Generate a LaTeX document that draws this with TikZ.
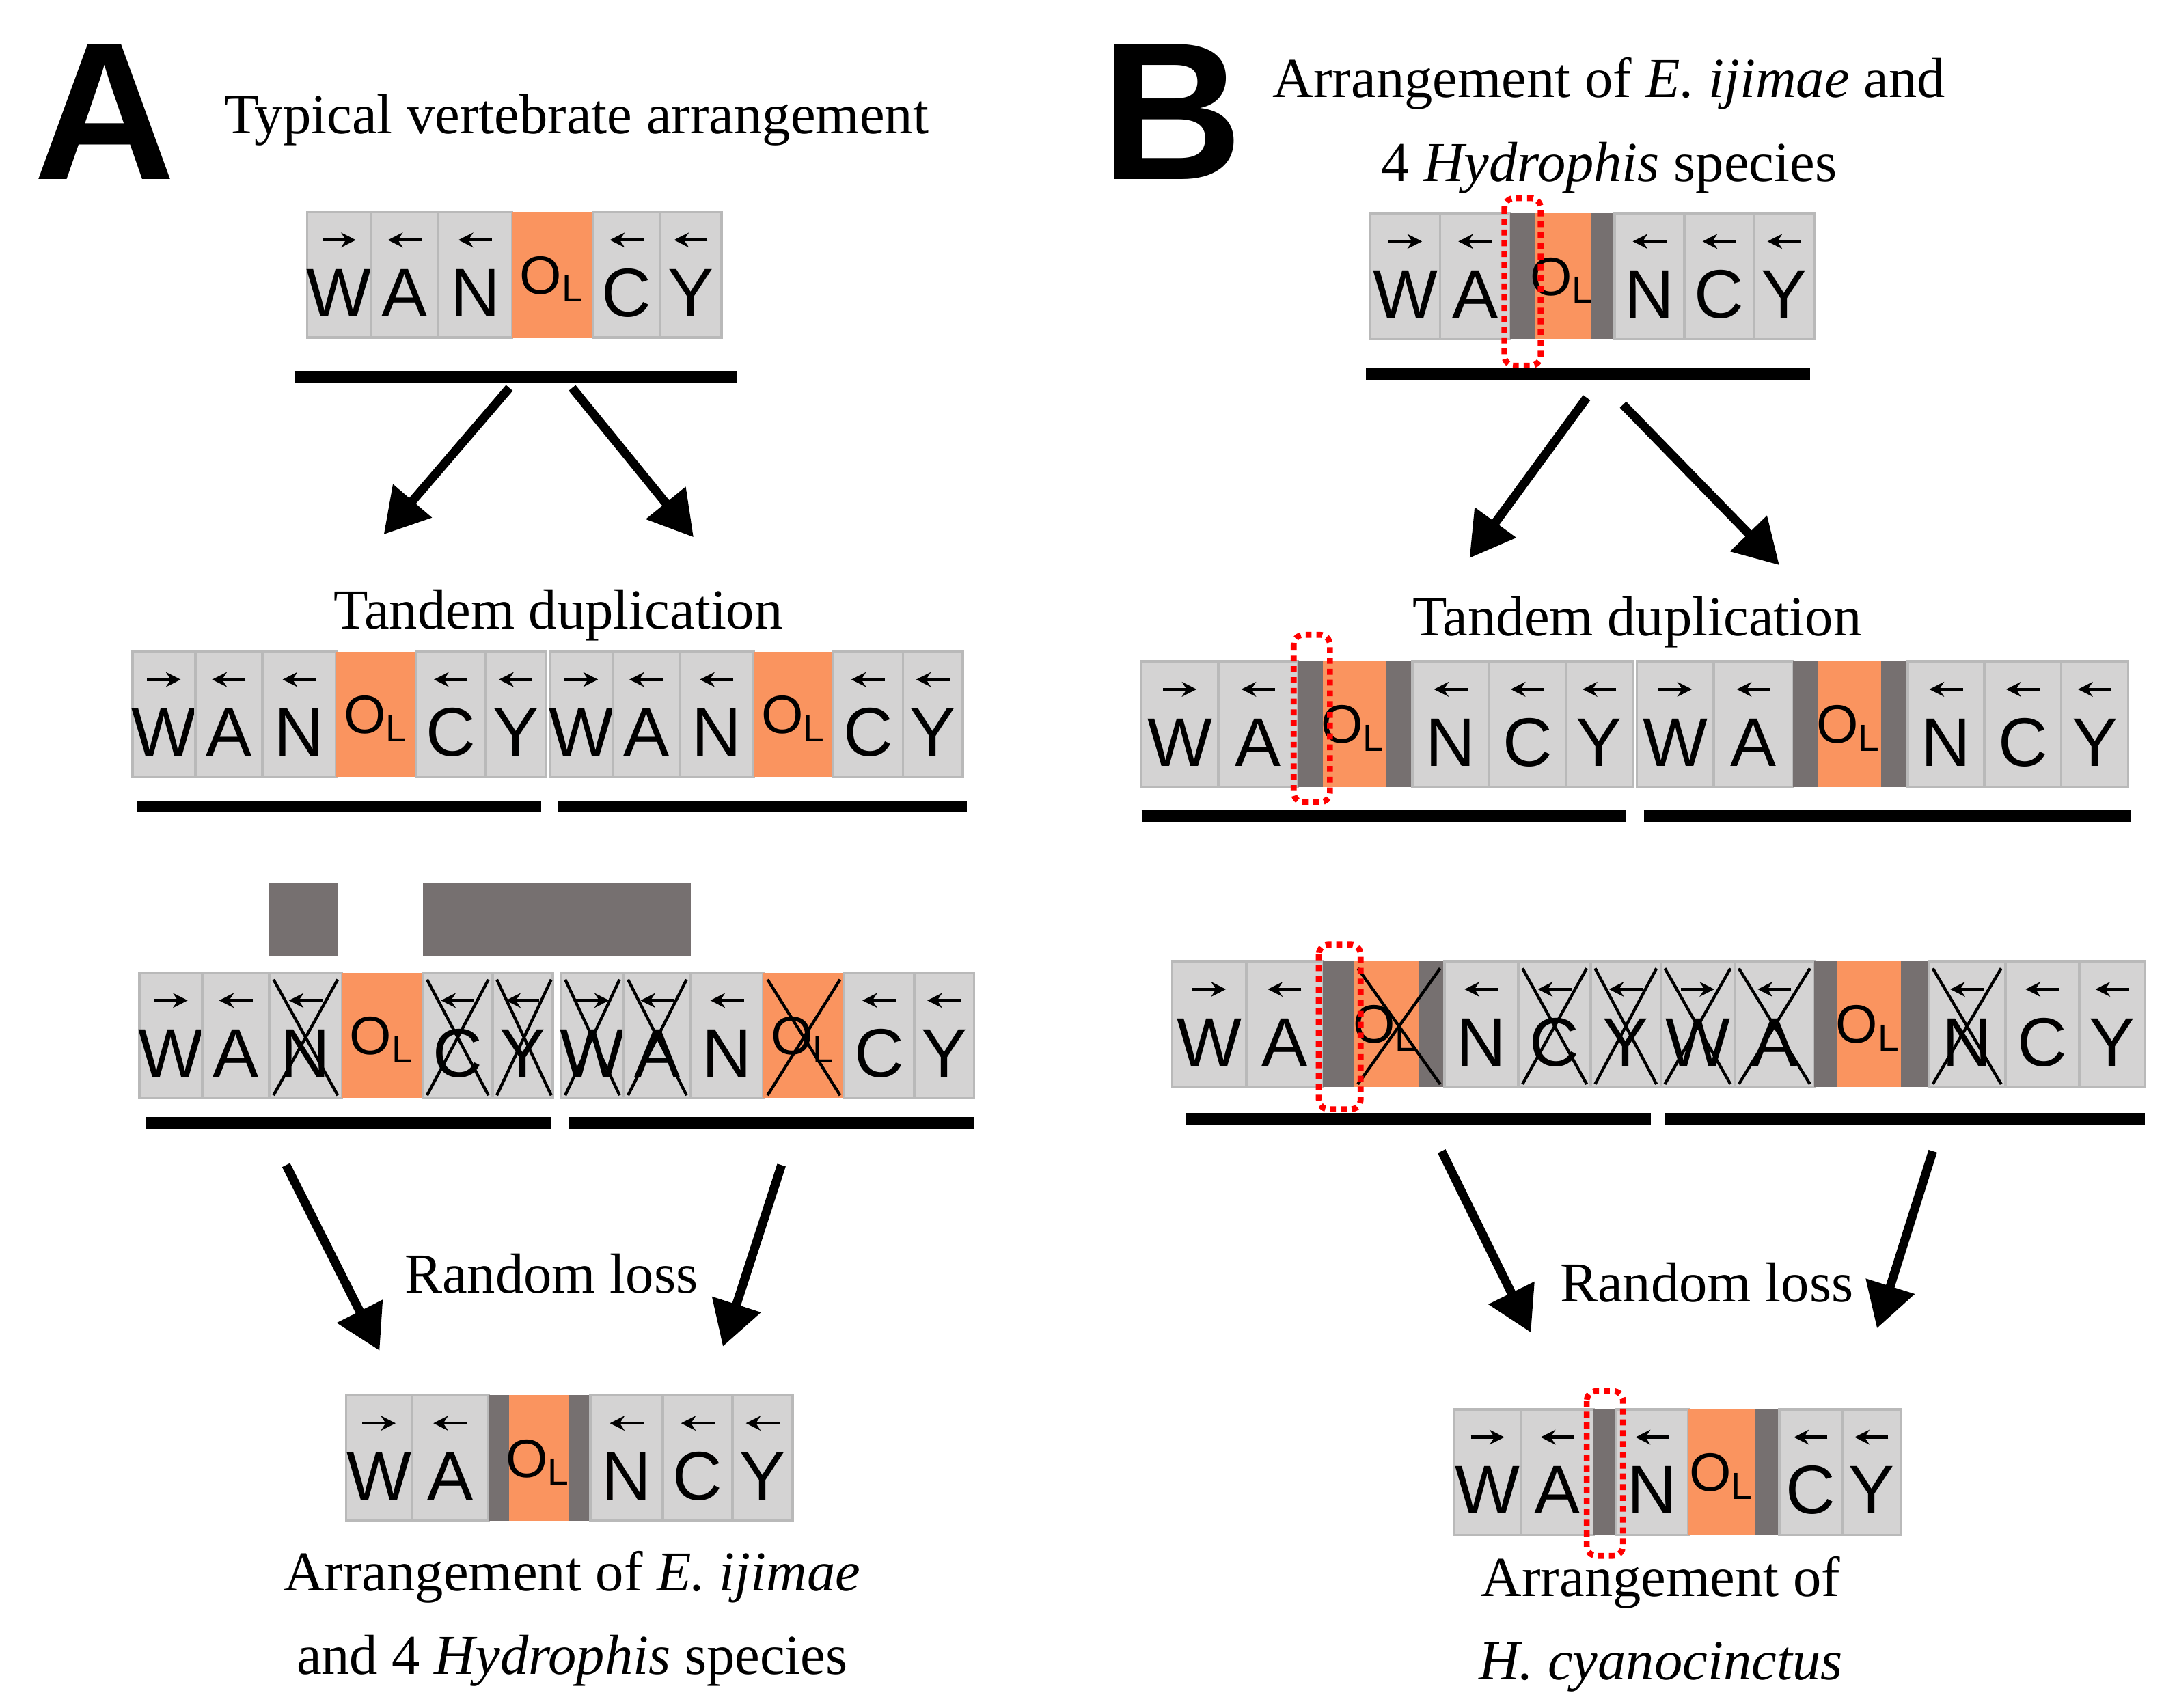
\documentclass[tikz,border=0pt]{standalone}
\usepackage{fontspec}
\setmainfont{Liberation Serif}
\newfontfamily\genefont{Liberation Sans}
\usetikzlibrary{arrows.meta}
\definecolor{geneGray}{RGB}{212,211,211}
\definecolor{geneEdge}{RGB}{185,185,185}
\definecolor{olOrange}{RGB}{250,148,95}
\definecolor{ncDark}{RGB}{118,112,112}
\tikzset{
  gene/.style={fill=geneGray,draw=geneEdge,line width=0.5pt},
  letter/.style={font=\genefont\fontsize{14}{14}\selectfont,inner sep=0pt},
  small arrow/.style={-{Stealth[length=3pt,width=3pt]},line width=0.6pt},
  big arrow/.style={-{Triangle[length=9pt,width=10pt]},line width=1.8pt},
  strand/.style={line width=2.4pt},
  cross/.style={line width=0.6pt},
  label/.style={font=\fontsize{11.5}{13}\selectfont,inner sep=0pt,align=center},
  loop box/.style={draw=red,densely dotted,line width=1.2pt,rounded corners=2pt}
}
%% gene box: name, x1, x2, top, letter, direction (1 = right, -1 = left)
\newcommand\gbox[6]{%
  \draw[gene] (#2,-#4) rectangle (#3,-#4-90);
  \node[letter] (#1) at ({(#2+#3)/2},-#4-58) {#5};
  \draw[small arrow] ({(#2+#3)/2-12*#6},-#4-20) -- ++(24*#6,0);}
%% origin of light strand
\newcommand\olbox[4]{%
  \fill[olOrange] (#2,-#3) rectangle (#3,-#4-90);
  \node[letter,font=\genefont\fontsize{11}{11}\selectfont] (#1) at ({(#2+#3)/2},-#4-48) {O\textsubscript{L}};}
\newcommand\dkbar[3]{\fill[ncDark] (#1,-#3) rectangle (#2,-#3-90);}
\newcommand\xgene[3]{\draw[cross] (#1+3,-#3-5) -- (#2-3,-#3-88) (#2-3,-#3-5) -- (#1+3,-#3-88);}
\begin{document}
\begin{tikzpicture}[x=0.01cm,y=0.01cm]
\useasboundingbox (0,0) rectangle (1560,-1224);
%% panel letters
\node[font=\genefont\bfseries\fontsize{40}{40}\selectfont] (pA) at (75,-80) {A};
\node[font=\genefont\bfseries\fontsize{40}{40}\selectfont] (pB) at (840,-80) {B};

%% ---------------- panel A ----------------
\node[label] (tA) at (413,-86) {Typical vertebrate arrangement};
\gbox{a1W}{220}{266}{152}{W}{1}\gbox{a1A}{266}{314}{152}{A}{-1}\gbox{a1N}{314}{367}{152}{N}{-1}
\fill[olOrange] (367,-152) rectangle (425,-242);\node[letter,font=\genefont\fontsize{11}{11}\selectfont] (a1O) at (396,-200) {O\textsubscript{L}};
\gbox{a1C}{425}{473}{152}{C}{-1}\gbox{a1Y}{473}{517}{152}{Y}{-1}
\draw[strand] (211,-270) -- (528,-270);
\coordinate (a1s) at (365,-278);\coordinate (a1e) at (275,-383);
\coordinate (a2s) at (410,-278);\coordinate (a2e) at (497,-385);
\draw[big arrow] (a1s) -- (a1e);\draw[big arrow] (a2s) -- (a2e);

\node[label] (dupA) at (400,-441) {Tandem duplication};
\foreach \o/\s in {0/a,299/b}{
  \gbox{a2W\s}{95+\o}{140+\o}{467}{W}{1}\gbox{a2A\s}{140+\o}{188+\o}{467}{A}{-1}\gbox{a2N\s}{188+\o}{241+\o}{467}{N}{-1}
  \fill[olOrange] (241+\o,-467) rectangle (298+\o,-557);\node[letter,font=\genefont\fontsize{11}{11}\selectfont] (a2O\s) at (270+\o,-515) {O\textsubscript{L}};
  \gbox{a2C\s}{298+\o}{348+\o}{467}{C}{-1}\gbox{a2Y\s}{348+\o}{391+\o}{467}{Y}{-1}}
\draw[strand] (98,-578) -- (388,-578);\draw[strand] (400,-578) -- (693,-578);

\fill[ncDark] (193,-633) rectangle (242,-685);
\fill[ncDark] (303,-633) rectangle (495,-685);
\foreach \o/\s in {0/a,302/b}{
  \gbox{a3W\s}{100+\o}{145+\o}{697}{W}{1}\gbox{a3A\s}{145+\o}{193+\o}{697}{A}{-1}\gbox{a3N\s}{193+\o}{245+\o}{697}{N}{-1}
  \fill[olOrange] (245+\o,-697) rectangle (303+\o,-787);\node[letter,font=\genefont\fontsize{11}{11}\selectfont] (a3O\s) at (274+\o,-745) {O\textsubscript{L}};
  \gbox{a3C\s}{303+\o}{353+\o}{697}{C}{-1}\gbox{a3Y\s}{353+\o}{396+\o}{697}{Y}{-1}}
\xgene{193}{245}{697}\xgene{303}{353}{697}\xgene{353}{398}{697}
\xgene{402}{447}{697}\xgene{447}{495}{697}\xgene{547}{605}{697}
\draw[strand] (105,-805) -- (395,-805);\draw[strand] (408,-805) -- (698,-805);
\coordinate (a3s) at (205,-835);\coordinate (a3e) at (272,-968);
\coordinate (a4s) at (560,-835);\coordinate (a4e) at (518,-965);
\draw[big arrow] (a3s) -- (a3e);\draw[big arrow] (a4s) -- (a4e);
\node[label] (lossA) at (395,-913) {Random loss};

\gbox{a4W}{248}{295}{1000}{W}{1}\gbox{a4A}{295}{350}{1000}{A}{-1}
\dkbar{350}{365}{1000}
\fill[olOrange] (365,-1000) rectangle (408,-1090);\node[letter,font=\genefont\fontsize{11}{11}\selectfont] (a4O) at (386,-1048) {O\textsubscript{L}};
\dkbar{408}{423}{1000}
\gbox{a4N}{423}{475}{1000}{N}{-1}\gbox{a4C}{475}{525}{1000}{C}{-1}\gbox{a4Y}{525}{568}{1000}{Y}{-1}
\node[label] (resA) at (410,-1160) {Arrangement of \textit{E. ijimae}\\[4pt]and 4 \textit{Hydrophis} species};

%% ---------------- panel B ----------------
\node[label] (tB) at (1153,-90) {Arrangement of \textit{E. ijimae} and\\[4pt]4 \textit{Hydrophis} species};
\gbox{b1W}{982}{1032}{153}{W}{1}\gbox{b1A}{1032}{1082}{153}{A}{-1}
\dkbar{1082}{1100}{153}
\fill[olOrange] (1100,-153) rectangle (1140,-243);\node[letter,font=\genefont\fontsize{11}{11}\selectfont] (b1O) at (1120,-201) {O\textsubscript{L}};
\dkbar{1140}{1157}{153}
\gbox{b1N}{1157}{1207}{153}{N}{-1}\gbox{b1C}{1207}{1257}{153}{C}{-1}\gbox{b1Y}{1257}{1300}{153}{Y}{-1}
\draw[loop box] (1078,-142) rectangle (1104,-262);
\draw[strand] (979,-268) -- (1297,-268);
\coordinate (b1s) at (1137,-285);\coordinate (b1e) at (1053,-400);
\coordinate (b2s) at (1163,-290);\coordinate (b2e) at (1275,-405);
\draw[big arrow] (b1s) -- (b1e);\draw[big arrow] (b2s) -- (b2e);

\node[label] (dupB) at (1173,-446) {Tandem duplication};
\foreach \o/\s in {0/a,355/b}{
  \gbox{b2W\s}{818+\o}{873+\o}{474}{W}{1}\gbox{b2A\s}{873+\o}{930+\o}{474}{A}{-1}
  \dkbar{930+\o}{948+\o}{474}
  \fill[olOrange] (948+\o,-474) rectangle (993+\o,-564);\node[letter,font=\genefont\fontsize{11}{11}\selectfont] (b2O\s) at (970+\o,-522) {O\textsubscript{L}};
  \dkbar{993+\o}{1012+\o}{474}
  \gbox{b2N\s}{1012+\o}{1067+\o}{474}{N}{-1}\gbox{b2C\s}{1067+\o}{1122+\o}{474}{C}{-1}\gbox{b2Y\s}{1122+\o}{1170+\o}{474}{Y}{-1}}
\draw[loop box] (927,-455) rectangle (953,-575);
\draw[strand] (818,-585) -- (1165,-585);\draw[strand] (1178,-585) -- (1527,-585);

\gbox{b3W}{840}{893}{689}{W}{1}\gbox{b3A}{893}{948}{689}{A}{-1}
\dkbar{948}{970}{689}
\fill[olOrange] (970,-689) rectangle (1017,-779);\node[letter,font=\genefont\fontsize{11}{11}\selectfont] (b3O) at (993,-737) {O\textsubscript{L}};
\dkbar{1017}{1035}{689}
\gbox{b3N}{1035}{1088}{689}{N}{-1}\gbox{b3C}{1088}{1140}{689}{C}{-1}\gbox{b3Y}{1140}{1190}{689}{Y}{-1}
\gbox{b3W2}{1190}{1243}{689}{W}{1}\gbox{b3A2}{1243}{1300}{689}{A}{-1}
\dkbar{1300}{1316}{689}
\fill[olOrange] (1316,-689) rectangle (1362,-779);\node[letter,font=\genefont\fontsize{11}{11}\selectfont] (b3O2) at (1339,-737) {O\textsubscript{L}};
\dkbar{1362}{1382}{689}
\gbox{b3N2}{1382}{1437}{689}{N}{-1}\gbox{b3C2}{1437}{1490}{689}{C}{-1}\gbox{b3Y2}{1490}{1537}{689}{Y}{-1}
\xgene{970}{1035}{689}\xgene{1088}{1140}{689}\xgene{1140}{1190}{689}
\xgene{1190}{1243}{689}\xgene{1243}{1300}{689}\xgene{1382}{1437}{689}
\draw[loop box] (945,-677) rectangle (975,-795);
\draw[strand] (850,-802) -- (1183,-802);\draw[strand] (1193,-802) -- (1537,-802);
\coordinate (b3s) at (1033,-825);\coordinate (b3e) at (1097,-955);
\coordinate (b4s) at (1385,-825);\coordinate (b4e) at (1345,-952);
\draw[big arrow] (b3s) -- (b3e);\draw[big arrow] (b4s) -- (b4e);
\node[label] (lossB) at (1223,-919) {Random loss};

\gbox{b4W}{1042}{1090}{1010}{W}{1}\gbox{b4A}{1090}{1142}{1010}{A}{-1}
\dkbar{1142}{1158}{1010}
\gbox{b4N}{1158}{1210}{1010}{N}{-1}
\fill[olOrange] (1210,-1010) rectangle (1258,-1100);\node[letter,font=\genefont\fontsize{11}{11}\selectfont] (b4O) at (1234,-1058) {O\textsubscript{L}};
\dkbar{1258}{1275}{1010}
\gbox{b4C}{1275}{1320}{1010}{C}{-1}\gbox{b4Y}{1320}{1362}{1010}{Y}{-1}
\draw[loop box] (1137,-997) rectangle (1163,-1115);
\node[label] (resB) at (1190,-1164) {Arrangement of\\[4pt]\textit{H. cyanocinctus}};
\end{tikzpicture}
\end{document}
